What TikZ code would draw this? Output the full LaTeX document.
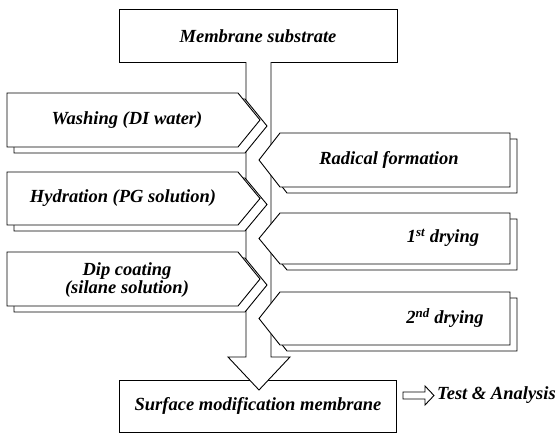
\documentclass[tikz,border=0pt]{standalone}
\usepackage{fontspec}
\setmainfont{Liberation Serif}
\usepackage{tikz}
\tikzset{
	steptext/.style={font=\fontsize{18.5}{18}\selectfont\bfseries\itshape, inner sep=0pt, align=center},
	outline/.style={line width=0.9pt, fill=white}
}
% left step box with its shadow: (top:bottom)
\def\leftchev(#1:#2){\draw[outline] (14, #1+6) -- (245, #1+6) -- (267, {(#1+#2)/2+6}) -- (245, #2+6) -- (14, #2+6) -- cycle;
	\draw[outline] (7, #1) -- (238, #1) -- (260, {(#1+#2)/2}) -- (238, #2) -- (7, #2) -- cycle;}
% right step box with its shadow: (top:bottom)
\def\rightchev(#1:#2){\draw[outline] (517, #1+6) -- (287, #1+6) -- (266, {(#1+#2)/2+6}) -- (287, #2+6) -- (517, #2+6) -- cycle;
	\draw[outline] (510, #1) -- (280, #1) -- (259, {(#1+#2)/2}) -- (280, #2) -- (510, #2) -- cycle;}

\begin{document}
\begin{tikzpicture}[x=1pt, y=-1pt]
		%%%%% START %%%%%
		\useasboundingbox (0, 0) rectangle (558, 434);
		
		\draw[outline] (119, 9) rectangle (397, 62);
		\node[steptext] (substrate) at (258, 36) {Membrane substrate};
		
		\draw[outline] (119, 380) rectangle (396, 432);
		\node[steptext] (surface) at (258, 406) {Surface modification membrane};
		
		% main shaft and arrow head
		\draw[outline] (246, 62) -- (246, 357) -- (228, 357) -- (259, 390) -- (290, 357) -- (271, 357) -- (271, 62);
		
		\leftchev(93:147)
		\node[steptext] (washing) at (127, 120) {Washing (DI water)};
		
		\leftchev(172:225)
		\node[steptext] (hydration) at (123, 198) {Hydration (PG solution)};
		
		\leftchev(252:306)
		\node[steptext] (dipcoat) at (127, 280) {Dip coating\\(silane solution)};
		
		\rightchev(133:187)
		\node[steptext] (radical) at (389, 160) {Radical formation};
		
		\rightchev(213:264)
		\node[steptext] (dryone) at (443, 238) {1\textsuperscript{st} drying};
		
		\rightchev(292:345)
		\node[steptext] (drytwo) at (445, 318) {2\textsuperscript{nd} drying};
		
		\draw[outline] (403, 392) -- (425, 392) -- (425, 386) -- (434, 395.5) -- (425, 405) -- (425, 399) -- (403, 399) -- cycle;
		\node[steptext, anchor=west] (test) at (437, 395) {Test \& Analysis};
		
		%%%%% END %%%%%
	\end{tikzpicture}
\end{document}
